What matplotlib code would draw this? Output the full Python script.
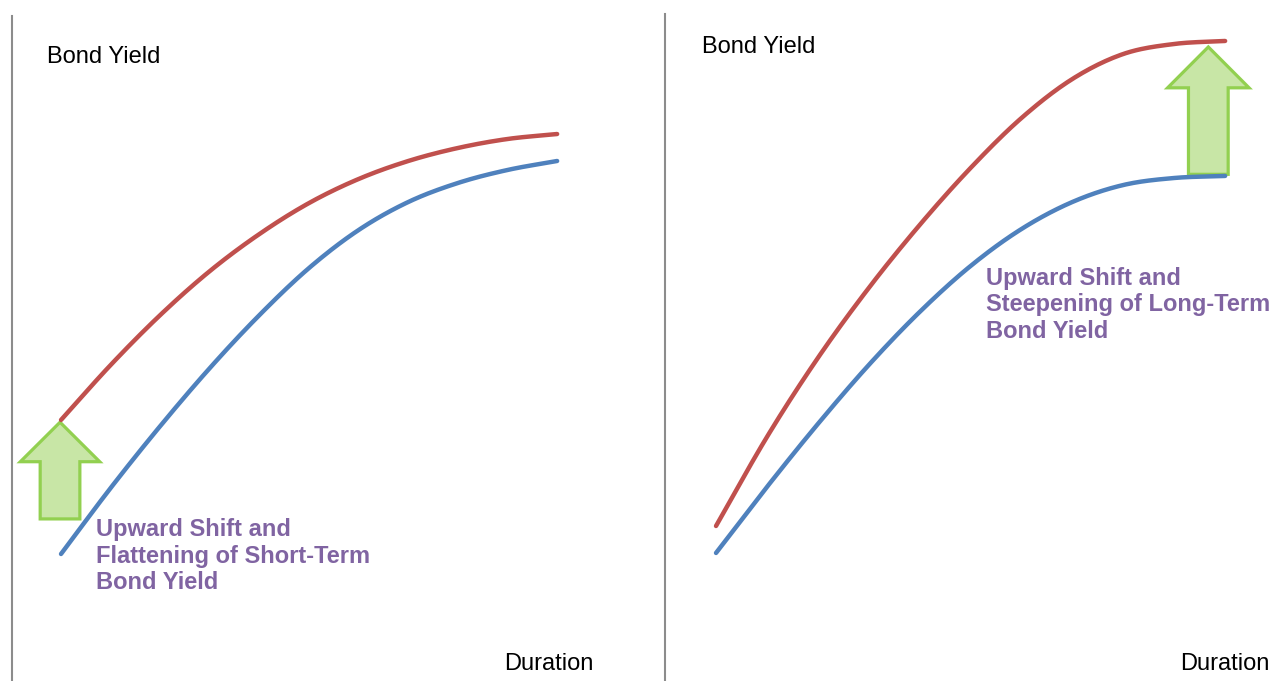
import numpy as np
import matplotlib
matplotlib.use("Agg")
import matplotlib.pyplot as plt
from matplotlib.patches import Polygon

plt.rcParams['font.family'] = ['Liberation Sans', 'DejaVu Sans']

# Duration steps (years) and yields for each scenario
duration_short = np.arange(11)
short_before = [1.865, 2.834, 3.744, 4.596, 5.374, 6.065, 6.623, 7.034, 7.313, 7.504, 7.636]
short_after = [3.833, 4.640, 5.374, 6.020, 6.564, 7.019, 7.372, 7.636, 7.827, 7.959, 8.032]

duration_long = np.arange(11)
long_before = [1.880, 2.849, 3.774, 4.640, 5.419, 6.094, 6.637, 7.034, 7.283, 7.386, 7.416]
long_after = [2.276, 3.583, 4.743, 5.771, 6.696, 7.533, 8.267, 8.840, 9.207, 9.354, 9.398]

# Shift arrows: (duration, base yield, tip yield)
short_arrow = (-0.02, 2.38, 3.80)
long_arrow = (9.67, 7.44, 9.31)

labels_short = "Upward Shift and\nFlattening of Short-Term\nBond Yield"
labels_long = "Upward Shift and\nSteepening of Long-Term\nBond Yield"

RED = "#C0504D"
BLUE = "#4F81BD"
GREEN_EDGE = "#92D050"
GREEN_FACE = "#C8E6A6"
PURPLE = "#8064A2"
GRAY = "#8C8C8C"


def smooth(x, y, n=20):
    """Catmull-Rom spline through the points, like a smoothed line chart."""
    x = np.asarray(x, float)
    y = np.asarray(y, float)
    px = np.concatenate([[2 * x[0] - x[1]], x, [2 * x[-1] - x[-2]]])
    py = np.concatenate([[2 * y[0] - y[1]], y, [2 * y[-1] - y[-2]]])
    xs, ys = [], []
    t = np.linspace(0, 1, n, endpoint=False)
    for i in range(1, len(px) - 2):
        for arr, out in ((px, xs), (py, ys)):
            p0, p1, p2, p3 = arr[i - 1], arr[i], arr[i + 1], arr[i + 2]
            out.extend(0.5 * ((2 * p1) + (-p0 + p2) * t
                              + (2 * p0 - 5 * p1 + 4 * p2 - p3) * t ** 2
                              + (-p0 + 3 * p1 - 3 * p2 + p3) * t ** 3))
    xs.append(x[-1])
    ys.append(y[-1])
    return np.array(xs), np.array(ys)


def up_arrow(ax, spec, head_half, shaft_half, head_len):
    xc, y0, y1 = spec
    yb = y1 - head_len
    pts = [(xc - shaft_half, y0), (xc + shaft_half, y0), (xc + shaft_half, yb),
           (xc + head_half, yb), (xc, y1), (xc - head_half, yb),
           (xc - shaft_half, yb)]
    ax.add_patch(Polygon(pts, closed=True, facecolor=GREEN_FACE,
                         edgecolor=GREEN_EDGE, linewidth=2.3, zorder=1,
                         joinstyle='miter'))


W, H = 1274, 681
fig = plt.figure(figsize=(W / 100, H / 100), dpi=100)

ax1 = fig.add_axes([12 / W, 0, 625 / W, 665 / H])
ax2 = fig.add_axes([665 / W, 0, 609 / W, 667 / H])
ax1.set_xlim(-0.988, 11.61)
ax1.set_ylim(0, 9.765)
ax2.set_xlim(-1.002, 10.96)
ax2.set_ylim(0, 9.794)

for ax in (ax1, ax2):
    ax.patch.set_visible(False)
    for side in ('top', 'right', 'bottom'):
        ax.spines[side].set_visible(False)
    ax.spines['left'].set_color(GRAY)
    ax.spines['left'].set_linewidth(1.5)
    ax.set_xticks([])
    ax.set_yticks([])

# Short-term panel
for yy, c in ((short_before, BLUE), (short_after, RED)):
    sx, sy = smooth(duration_short, yy)
    ax1.plot(sx, sy, color=c, lw=3.2, solid_capstyle='round', zorder=3)
up_arrow(ax1, short_arrow, 0.80, 0.40, 0.58)
ax1.text(-0.28, 9.16, "Bond Yield", fontsize=17, va='center', ha='left')
ax1.text(10.73, 0.25, "Duration", fontsize=17, va='center', ha='right')
ax1.text(0.71, 2.39, labels_short, fontsize=17, fontweight='bold',
         color=PURPLE, va='top', ha='left', linespacing=1.19)

# Long-term panel
for yy, c in ((long_before, BLUE), (long_after, RED)):
    sx, sy = smooth(duration_long, yy)
    ax2.plot(sx, sy, color=c, lw=3.2, solid_capstyle='round', zorder=3)
up_arrow(ax2, long_arrow, 0.80, 0.39, 0.60)
ax2.text(-0.275, 9.31, "Bond Yield", fontsize=17, va='center', ha='left')
ax2.text(10.88, 0.25, "Duration", fontsize=17, va='center', ha='right')
ax2.text(5.30, 6.08, labels_long, fontsize=17, fontweight='bold',
         color=PURPLE, va='top', ha='left', linespacing=1.19)

fig.savefig("out.png", dpi=100, facecolor='white')
